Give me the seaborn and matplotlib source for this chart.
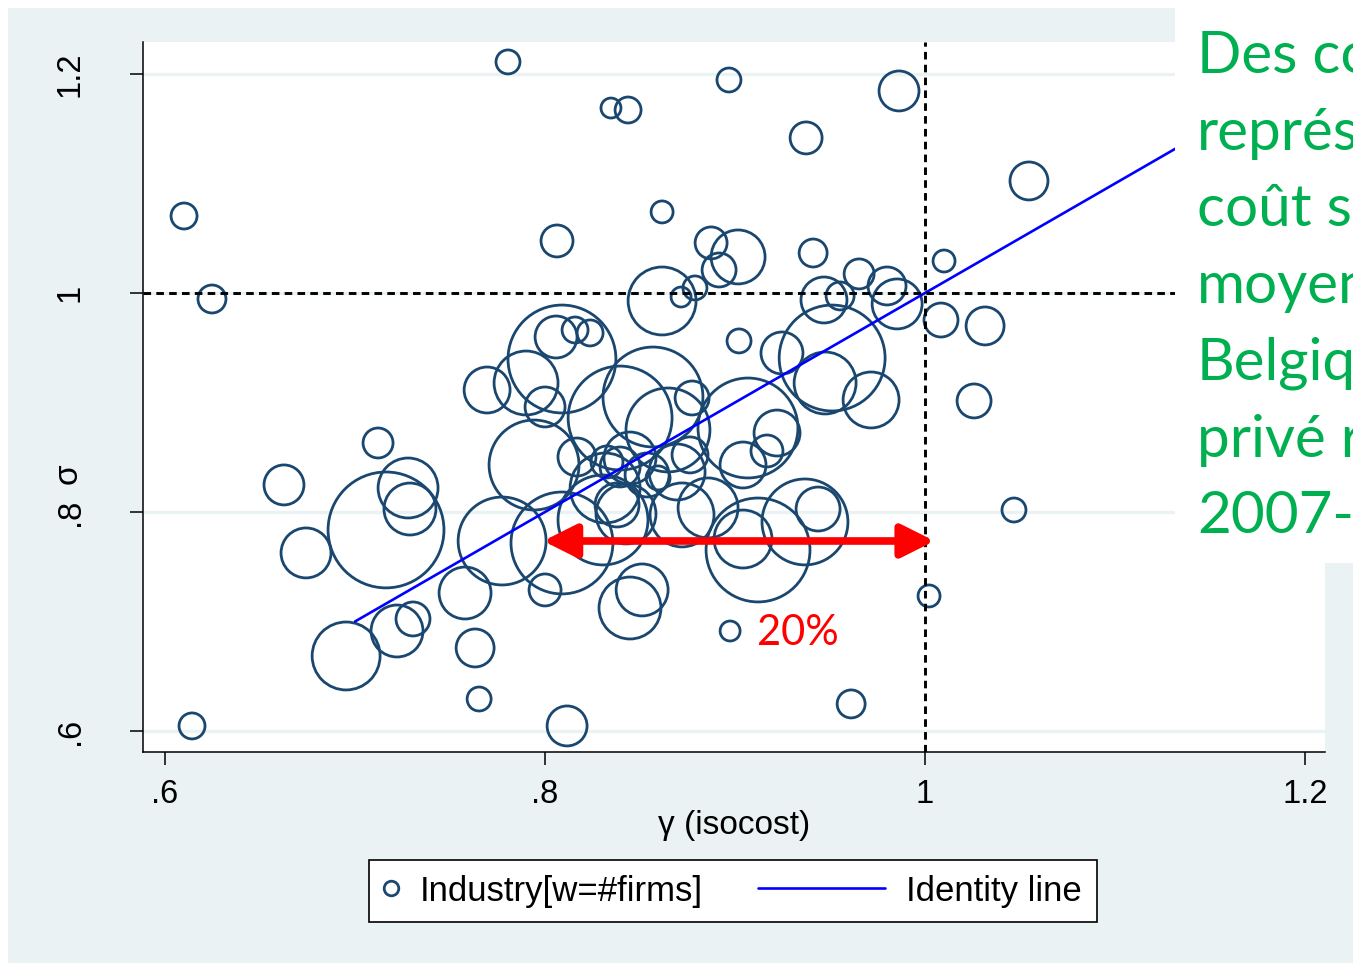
import pandas as pd
import seaborn as sns
import matplotlib.pyplot as plt
from matplotlib.lines import Line2D
from matplotlib.patches import Rectangle
from matplotlib.legend_handler import HandlerLine2D

# industries: gamma (isocost), sigma and weight (#firms)
gamma = [0.7805, 0.8968, 0.9863, 0.8347, 0.8437, 0.9374, 1.0547, 0.6100, 0.6247, 0.8616,
         0.8063, 0.8874, 0.9016, 0.8916, 0.9411, 0.9653, 0.9800, 0.9853, 0.9468, 0.9553,
         1.0100, 1.0084, 1.0316, 1.0258, 1.0468, 1.0021, 0.9611, 0.8974, 0.6142, 0.6626,
         0.6742, 0.7163, 0.7121, 0.7279, 0.7289, 0.6953, 0.7221, 0.7305, 0.7653, 0.8116,
         0.7579, 0.7632, 0.8000, 0.8511, 0.8447, 0.7774, 0.8089, 0.7942, 0.7695, 0.7900,
         0.8089, 0.8058, 0.8158, 0.8237, 0.8000, 0.8616, 0.8716, 0.8789, 0.8568, 0.8395,
         0.8774, 0.8647, 0.9021, 0.9247, 0.9511, 0.9474, 0.9716, 0.9068, 0.9221, 0.9168,
         0.9042, 0.9121, 0.9042, 0.9368, 0.9437, 0.8168, 0.8326, 0.8395, 0.8447, 0.8537,
         0.8695, 0.8763, 0.8316, 0.8305, 0.8426, 0.8379, 0.8721, 0.8858, 0.8595]
sigma = [1.2110, 1.1945, 1.1845, 1.1689, 1.1671, 1.1416, 1.1023, 1.0703, 0.9945, 1.0740,
         1.0475, 1.0457, 1.0329, 1.0210, 1.0365, 1.0174, 1.0064, 0.9900, 0.9936, 0.9973,
         1.0292, 0.9753, 0.9699, 0.9014, 0.8018, 0.7233, 0.6247, 0.6913, 0.6046, 0.8247,
         0.7626, 0.7836, 0.8630, 0.8219, 0.8027, 0.6685, 0.6913, 0.7023, 0.6292, 0.6046,
         0.7260, 0.6758, 0.7288, 0.7288, 0.7123, 0.7735, 0.7717, 0.8429, 0.9114, 0.9178,
         0.9397, 0.9598, 0.9662, 0.9635, 0.8959, 0.9927, 0.9963, 1.0046, 0.9050, 0.8858,
         0.9041, 0.8749, 0.9562, 0.9452, 0.9406, 0.9178, 0.9023, 0.8767, 0.8721, 0.8557,
         0.8429, 0.7653, 0.7753, 0.7909, 0.8027, 0.8502, 0.8457, 0.8411, 0.8493, 0.8338,
         0.8365, 0.8521, 0.8219, 0.7927, 0.7982, 0.8064, 0.7973, 0.8037, 0.8311]
firms = [144, 144, 400, 100, 169, 256, 361, 169, 196, 121,
         256, 256, 729, 289, 196, 225, 361, 625, 529, 196,
         121, 289, 361, 289, 144, 121, 196, 100, 169, 400,
         625, 3364, 225, 900, 676, 1156, 676, 289, 144, 400,
         676, 361, 256, 676, 961, 1936, 2601, 2025, 529, 1024,
         2916, 441, 169, 169, 400, 1156, 100, 144, 2500, 2704,
         289, 1764, 144, 441, 2809, 961, 784, 2500, 529, 256,
         529, 2704, 841, 1849, 484, 361, 256, 400, 676, 484,
         784, 324, 1225, 2025, 900, 484, 1024, 900, 144]

ticks = [0.6, 0.8, 1.0, 1.2]
tick_labels = [".6", ".8", "1", "1.2"]
identity = [0.7, 1.2]
gap_from, gap_to, gap_level = 0.799, 1.005, 0.7735
note_lines = ["Des co", "représ", "coût s", "moyen", "Belgiq", "privé r", "2007-1"]

sns.set_theme(style="white")
plt.rcParams["font.family"] = ["Liberation Sans", "DejaVu Sans"]
calibri_like = ["Lato", "DejaVu Sans"]

navy = "#1a476f"
bg = "#eaf2f3"
W, H = 1353, 963


class LongLine(HandlerLine2D):
    # legend line that reaches further left than the handle box
    def create_artists(self, legend, orig_handle, xdescent, ydescent, width, height, fontsize, trans):
        ext = 8.1 * width
        return super().create_artists(legend, orig_handle, xdescent + ext, ydescent,
                                      width + ext, height, fontsize, trans)


fig = plt.figure(figsize=(W / 100, H / 100), dpi=100)
fig.patch.set_facecolor("white")
fig.add_artist(Rectangle((8 / W, 0), 1, 1 - 8 / H, transform=fig.transFigure,
                         facecolor=bg, edgecolor="none", zorder=-10))
ax = fig.add_axes([143 / W, 1 - 752 / H, 1182 / W, 710 / H])
ax.set_facecolor("white")

df = pd.DataFrame({"gamma": gamma, "sigma": sigma, "firms": firms})
wmax = max(firms)
sns.scatterplot(data=df, x="gamma", y="sigma", size="firms",
                sizes=(0, 2.07 * wmax), size_norm=(0, wmax),
                legend=False, ax=ax, zorder=3)
pts = ax.collections[0]
pts.set_facecolor("none")
pts.set_edgecolor(navy)
pts.set_linewidth(2.0)

sns.lineplot(x=identity, y=identity, color="blue", lw=1.9, ax=ax, zorder=4)

ax.axvline(1, color="black", ls=(0, (2.6, 1.8)), lw=2.1, zorder=4)
ax.axhline(1, color="black", ls=(0, (2.6, 1.8)), lw=2.1, zorder=4)

ax.annotate("", xy=(gap_to, gap_level), xytext=(gap_from, gap_level),
            arrowprops=dict(arrowstyle="<|-|>,head_length=1.0,head_width=0.5",
                            color="red", lw=5.5, shrinkA=0, shrinkB=0, mutation_scale=20),
            zorder=6)
ax.text(0.9116, 0.6785, "20%", color="red", fontsize=30, family=calibri_like,
        va="baseline", zorder=6)

ax.set_xlim(0.5884, 1.2105)
ax.set_ylim(0.5808, 1.2292)
ax.set_xticks(ticks, tick_labels)
ax.set_yticks(ticks, tick_labels)
ax.yaxis.grid(True, color=bg, lw=2.4)
ax.xaxis.grid(False)
ax.set_axisbelow(True)
ax.tick_params(axis="both", direction="out", length=9.4, width=1.1, color="black",
               labelsize=23.5, labelcolor="black", bottom=True, left=True)
ax.tick_params(axis="y", labelrotation=90, pad=32)
ax.tick_params(axis="x", pad=10)
for lab in ax.get_yticklabels():
    lab.set_va("center")
for side in ["top", "right"]:
    ax.spines[side].set_visible(False)
for side in ["left", "bottom"]:
    ax.spines[side].set_color("black")
    ax.spines[side].set_linewidth(1.1)

ax.set_xlabel("γ (isocost)", fontsize=24, color="black")
ax.xaxis.set_label_coords(0.5, (752 - 825) / 710)
ax.xaxis.label.set_va("center")
ax.set_ylabel("σ", fontsize=24, color="black")
ax.yaxis.set_label_coords((68 - 143) / 1182, (752 - 474) / 710)
ax.yaxis.label.set_va("center")

handles = [Line2D([], [], marker="o", ls="none", mfc="none", mec=navy, mew=2.0, ms=10.5),
           Line2D([], [], color="blue", lw=1.9)]
leg = ax.legend(handles, ["Industry[w=#firms]", "Identity line"], ncol=2, loc="center",
                bbox_to_anchor=(733 / W, 1 - 891 / H), bbox_transform=fig.transFigure,
                frameon=True, fancybox=False, edgecolor="black", framealpha=1,
                fontsize=25, handlelength=0.4, handletextpad=0.63, columnspacing=4.84,
                borderpad=0.43, handler_map={handles[1]: LongLine()})
leg.get_frame().set_linewidth(1.2)
for t in leg.get_texts():
    t.set_color("black")

# slide text box laid over the right side of the graph
fig.add_artist(Rectangle((1175 / W, 1 - 563 / H), 1, 563 / H, transform=fig.transFigure,
                         facecolor="white", edgecolor="none", zorder=5))
for i, line in enumerate(note_lines):
    fig.text(1197 / W, 1 - (73 + 76.7 * i) / H, line, color="#00b050", fontsize=42,
             family=calibri_like, va="baseline", ha="left", zorder=7)

fig.savefig("out.png", dpi=100)
